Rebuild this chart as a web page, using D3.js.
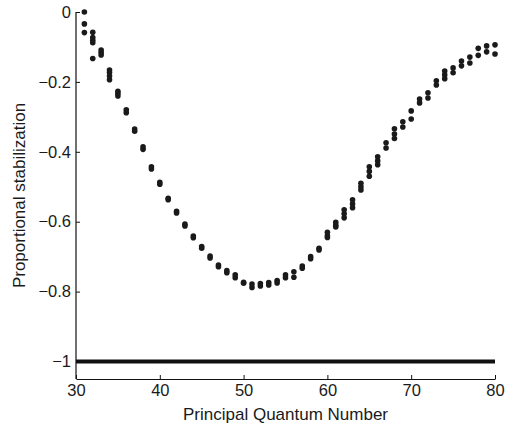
<!DOCTYPE html>
<html lang="en">
<head>
    <meta charset="UTF-8">
    <title>Proportional stabilization</title>
    <script src="https://cdn.jsdelivr.net/npm/d3@7"></script>
    <style>
        body { margin: 0; background: #fff; }
        svg text { font-family: "Liberation Sans", Arial, Helvetica, sans-serif; fill: #1a1a1a; }
    </style>
</head>
<body>
<svg width="511" height="429"></svg>

<script>

    // principal quantum number n, and the stabilization values seen at each n
    var quantumN = [31, 32, 33, 34, 35, 36, 37, 38, 39, 40,
        41, 42, 43, 44, 45, 46, 47, 48, 49, 50,
        51, 52, 53, 54, 55, 56, 57, 58, 59, 60,
        61, 62, 63, 64, 65, 66, 67, 68, 69, 70,
        71, 72, 73, 74, 75, 76, 77, 78, 79, 80];

    var stabilization = [
        [0, -0.034, -0.059],
        [-0.058, -0.073, -0.081, -0.088, -0.133],
        [-0.109, -0.116, -0.123],
        [-0.166, -0.173, -0.183, -0.194],
        [-0.227, -0.233, -0.24],
        [-0.28, -0.288],
        [-0.335, -0.341],
        [-0.386, -0.393],
        [-0.443, -0.449],
        [-0.487, -0.493],
        [-0.533, -0.537],
        [-0.57, -0.575],
        [-0.607, -0.612],
        [-0.641, -0.646],
        [-0.671, -0.676],
        [-0.698, -0.704],
        [-0.724, -0.729],
        [-0.74, -0.746],
        [-0.752, -0.76],
        [-0.773, -0.776],
        [-0.778, -0.788],
        [-0.777, -0.784],
        [-0.774, -0.781],
        [-0.768, -0.775],
        [-0.752, -0.76],
        [-0.743, -0.759],
        [-0.727, -0.733],
        [-0.7, -0.706],
        [-0.676, -0.681],
        [-0.63, -0.64, -0.645],
        [-0.602, -0.61, -0.615],
        [-0.566, -0.577, -0.589],
        [-0.537, -0.549, -0.56],
        [-0.49, -0.5, -0.509],
        [-0.443, -0.456, -0.47],
        [-0.414, -0.426, -0.437],
        [-0.374, -0.389],
        [-0.334, -0.349, -0.362],
        [-0.314, -0.329],
        [-0.283, -0.306],
        [-0.249, -0.26],
        [-0.231, -0.246],
        [-0.197, -0.209],
        [-0.169, -0.18, -0.191],
        [-0.16, -0.174],
        [-0.14, -0.154],
        [-0.129, -0.146],
        [-0.104, -0.124],
        [-0.097, -0.114],
        [-0.094, -0.12]
    ];

    // reference level drawn as a thick line
    var referenceLevel = -1;

    var xTicks = [30, 40, 50, 60, 70, 80];
    var yTicks = [0, -0.2, -0.4, -0.6, -0.8, -1];
    var yTickLabels = ["0", "\u22120.2", "\u22120.4", "\u22120.6", "\u22120.8", "\u22121"];

    var svg = d3.select("svg"),
        margin = {top: 12, right: 16, bottom: 50, left: 76},
        width = +svg.attr("width") - margin.left - margin.right,
        height = +svg.attr("height") - margin.top - margin.bottom;

    var g = svg.append("g")
        .attr("transform", "translate(" + margin.left + "," + margin.top + ")");

    var x = d3.scaleLinear().domain([30, 80]).range([0, width]);
    var y = d3.scaleLinear().domain([-1.05, 0]).range([height, 0]);

    // flatten to one point per dot
    var points = [];
    quantumN.forEach(function (n, i) {
        stabilization[i].forEach(function (v) {
            points.push({n: n, v: v});
        });
    });

    /* axes, MATLAB style: ticks pointing inward */
    var xAxis = g.append("g")
        .attr("transform", "translate(0," + height + ")")
        .call(d3.axisBottom(x).tickValues(xTicks).tickSizeInner(-4).tickSizeOuter(0).tickPadding(5));

    var yAxis = g.append("g")
        .call(d3.axisLeft(y).tickValues(yTicks)
            .tickFormat(function (d, i) { return yTickLabels[i]; })
            .tickSizeInner(-4).tickSizeOuter(0).tickPadding(5));

    g.selectAll(".domain").attr("stroke", "#111").attr("stroke-width", 1.2);
    g.selectAll(".tick line").attr("stroke", "#111");
    g.selectAll(".tick text").style("font-size", "16.5px").attr("fill", "#1a1a1a");

    // keep the y domain line only from 0 down to the x axis
    yAxis.select(".domain").attr("d", "M0," + y(0) + "V" + height);

    /* thick line at -1 */
    g.append("line")
        .attr("x1", x(30))
        .attr("x2", x(80))
        .attr("y1", y(referenceLevel))
        .attr("y2", y(referenceLevel))
        .attr("stroke", "#111")
        .attr("stroke-width", 4);

    g.append("g")
        .selectAll("circle")
        .data(points)
        .enter().append("circle")
        .attr("cx", function (d) { return x(d.n); })
        .attr("cy", function (d) { return y(d.v); })
        .attr("r", 2.8)
        .attr("fill", "#1a1a1a");

    // axis titles
    g.append("text")
        .attr("x", width / 2)
        .attr("y", height + 41)
        .attr("text-anchor", "middle")
        .style("font-size", "17px")
        .text("Principal Quantum Number");

    g.append("text")
        .attr("transform", "translate(" + (-51) + "," + (height / 2) + ") rotate(-90)")
        .attr("text-anchor", "middle")
        .style("font-size", "17px")
        .text("Proportional stabilization");

</script>

</body>
</html>
